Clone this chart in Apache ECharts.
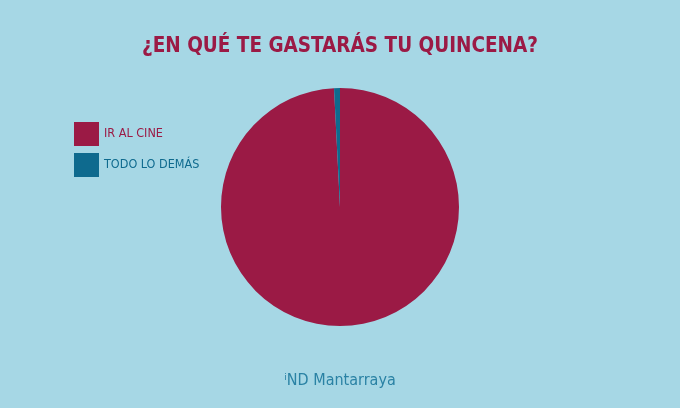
<!DOCTYPE html>
<html lang="es">
<head>
    <meta charset="UTF-8">
    <title>¿En qué te gastarás tu quincena?</title>
    <script src="https://cdn.jsdelivr.net/npm/echarts@6/dist/echarts.min.js"></script>
    <style>
        html, body { margin: 0; padding: 0; background: #a6d7e5; }
    </style>
</head>
<body>
<div id="main" style="width: 680px;height:408px;"></div>
<script>
    // datos
    var categorias = ['IR AL CINE', 'TODO LO DEMÁS'];
    var valores = [99.2, 0.8];
    var colores = ['#9b1a45', '#0e6a8e'];

    var fuente = '"DejaVu Sans Condensed", sans-serif';

    var myChart = echarts.init(document.getElementById('main'));

    var datos = [];
    var leyenda = [];
    for (var i = 0; i < categorias.length; i++) {
        datos.push({ name: categorias[i], value: valores[i], itemStyle: { color: colores[i] } });
        leyenda.push({ name: categorias[i], textStyle: { color: colores[i] } });
    }

    myChart.setOption({
        backgroundColor: '#a6d7e5',
        animation: false,
        title: {
            text: '¿EN QUÉ TE GASTARÁS TU QUINCENA?',
            left: 'center',
            top: 31,
            textStyle: {
                color: '#9b1a45',
                fontFamily: fuente,
                fontWeight: 'bold',
                fontSize: 20.5
            }
        },
        legend: {
            orient: 'vertical',
            left: 69,
            top: 117,
            itemWidth: 25,
            itemHeight: 24,
            itemGap: 7,
            icon: 'rect',
            selectedMode: false,
            textStyle: { fontFamily: fuente, fontSize: 12.5 },
            data: leyenda
        },
        graphic: [{
            type: 'text',
            left: 'center',
            top: 373,
            style: {
                text: 'ⁱND Mantarraya',
                fill: '#2a82a4',
                font: '16px ' + fuente
            }
        }],
        series: [{
            type: 'pie',
            center: [340, 207],
            radius: 119,
            startAngle: 90,
            clockwise: true,
            label: { show: false },
            labelLine: { show: false },
            emphasis: { disabled: true },
            itemStyle: { borderWidth: 0 },
            data: datos
        }]
    });
</script>
</body>
</html>
